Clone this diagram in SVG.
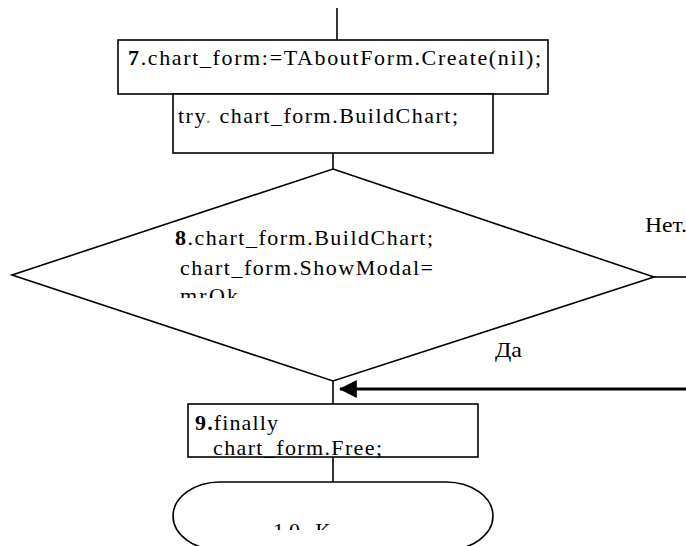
<svg xmlns="http://www.w3.org/2000/svg" width="686" height="546" viewBox="0 0 686 546" font-family="'Liberation Serif', 'Times New Roman', serif" font-size="22">
<style>
.s{fill:#fff;stroke:#000;stroke-width:1.6}
.c{fill:none;stroke:#000;stroke-width:1.6}
.b{font-weight:bold}
</style>
<defs>
<marker id="ah" markerWidth="6" markerHeight="6" refX="5.6" refY="3" orient="auto" markerUnits="strokeWidth">
<path d="M0,0 L6,3 L0,6 z" fill="#000"/>
</marker>
<clipPath id="clipOk"><rect x="0" y="0" width="686" height="298"/></clipPath>
<clipPath id="clip10"><rect x="0" y="0" width="686" height="530"/></clipPath>
</defs>
<rect width="686" height="546" fill="#fff"/>
<g id="connectors">
<line class="c" x1="337" y1="8" x2="337" y2="40"/>
<line class="c" x1="333" y1="153" x2="333" y2="169"/>
<line class="c" x1="654" y1="277" x2="686" y2="277"/>
<line class="c" x1="333" y1="381" x2="333" y2="404"/>
<line class="c" x1="333" y1="457" x2="333" y2="482"/>
<line stroke="#000" stroke-width="3" x1="686" y1="389" x2="340" y2="389" marker-end="url(#ah)"/>
<text x="645" y="232" textLength="42" lengthAdjust="spacingAndGlyphs">Нет.</text>
<text x="495" y="357" textLength="27" lengthAdjust="spacingAndGlyphs">Да</text>
</g>
<g id="n7">
<rect class="s" x="118" y="40" width="430" height="54"/>
<text x="128" y="65" textLength="413" lengthAdjust="spacing"><tspan class="b">7</tspan>.chart_form:=TAboutForm.Create(nil);</text>
</g>
<g id="ntry">
<rect class="s" x="173" y="94" width="320" height="59"/>
<text x="178" y="123" textLength="280" lengthAdjust="spacing">try<tspan fill="#999">.</tspan> chart_form.BuildChart;</text>
</g>
<g id="n8">
<polygon class="s" points="333,169 654,277 333,381 12,275"/>
<text x="175" y="245" textLength="258" lengthAdjust="spacing"><tspan class="b">8</tspan>.chart_form.BuildChart;</text>
<text x="180" y="275" textLength="253" lengthAdjust="spacing">chart_form.ShowModal=</text>
<text x="180" y="303" clip-path="url(#clipOk)" textLength="58" lengthAdjust="spacing">mrOk</text>
</g>
<g id="n9">
<rect class="s" x="188" y="404" width="290" height="53"/>
<text x="195" y="430" textLength="83" lengthAdjust="spacing"><tspan class="b">9.</tspan>finally</text>
<text x="213" y="455" textLength="169" lengthAdjust="spacing">chart_form.Free;</text>
</g>
<g id="n10">
<path class="s" d="M220,482 L446,482 A47,34 0 0 1 446,550 L220,550 A47,34 0 0 1 220,482 Z"/>
<text x="273" y="538" clip-path="url(#clip10)" textLength="57" lengthAdjust="spacing">10.К</text>
</g>
</svg>
